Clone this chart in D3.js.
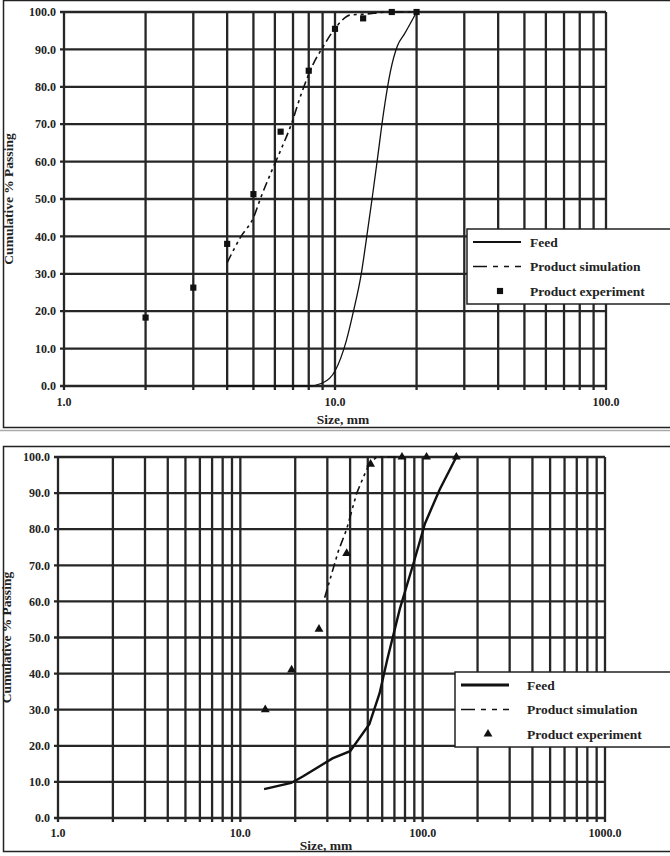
<!DOCTYPE html>
<html>
<head>
<meta charset="utf-8">
<script src="https://cdn.jsdelivr.net/npm/d3@7"></script>
<style>
  body { margin: 0; background: #fff; }
  text { font-family: "Liberation Serif", "Times New Roman", serif; font-weight: bold; fill: #222; }
</style>
</head>
<body>
<div id="vis"></div>
<script>
const width = 670;
const height = 856;

// size (mm), cumulative % passing
const feed1 = [[4,0],[8,0],[9,0.8],[10,4],[11,12],[11.7,20],[12.5,30],[13.1,40],[13.7,50],[14.3,60],[15.1,73],[16,84],[17,91],[18,94],[20,100]];
const sim1 = [[4.0,33],[4.5,40],[5.0,45],[5.3,50],[5.8,57],[6.3,63],[6.9,70],[7.5,78],[8.3,86],[9.0,90.5],[10.1,96],[11.4,99.2],[12.7,99.4],[16,100],[20,100]];
const exp1 = [[2.0,18.3],[3.0,26.3],[4.0,38],[5.0,51.3],[6.3,68],[8.0,84.3],[10.0,95.5],[12.7,98.3],[16.2,100],[20,100]];

const feed2 = [[13.5,8],[19,9.7],[22,11.5],[32,16.5],[40,18.5],[51,26],[58,34.5],[64,44],[75,58],[89,70.5],[103,81.6],[124,91],[153,100]];
const sim2 = [[29,61],[31,66],[34.5,74],[38.3,80],[40.8,85],[43.5,90],[48.3,95.5],[51.4,98.4],[56,100],[78,100]];
const exp2 = [[13.7,30],[19.1,41],[27,52.3],[38.3,73.3],[51.8,98],[77,100],[105,100],[153,100]];

const yTicks = [0,10,20,30,40,50,60,70,80,90,100];
const xLabels1 = [1,10,100];
const xLabels2 = [1,10,100,1000];
const legendNames = ['Feed', 'Product simulation', 'Product experiment'];

const svg = d3.select('#vis')
    .append('svg')
    .attr('width', width)
    .attr('height', height);

function panel(p) {
    const x = d3.scaleLog().domain(p.xDomain).range([p.left, p.right]);
    const y = d3.scaleLinear().domain([0, 100]).range([p.bottom, p.top]);
    const g = svg.append('g');

    // outer frame
    g.append('rect')
        .attr('x', 3.5).attr('y', p.frameTop)
        .attr('width', 700).attr('height', p.frameH)
        .attr('fill', 'none').attr('stroke', '#222').attr('stroke-width', 1.5);

    // vertical grid, one line per 1..9 of each decade
    g.selectAll('line.v')
        .data(x.ticks())
        .join('line')
        .attr('x1', d => x(d)).attr('x2', d => x(d))
        .attr('y1', p.top).attr('y2', p.bottom + 4)
        .attr('stroke', '#262626').attr('stroke-width', 2.3);

    // horizontal grid
    g.selectAll('line.h')
        .data(yTicks)
        .join('line')
        .attr('x1', p.left - 4).attr('x2', p.right)
        .attr('y1', d => y(d)).attr('y2', d => y(d))
        .attr('stroke', '#262626').attr('stroke-width', 2.3);

    // y labels
    g.selectAll('text.y')
        .data(yTicks)
        .join('text')
        .attr('x', p.left - 8).attr('y', d => y(d))
        .attr('dy', '0.35em').attr('text-anchor', 'end')
        .style('font-size', '12px')
        .text(d => d3.format('.1f')(d));

    // x labels
    g.selectAll('text.x')
        .data(p.xLabels)
        .join('text')
        .attr('x', d => x(d)).attr('y', p.bottom + p.xLabDy)
        .attr('text-anchor', 'middle')
        .style('font-size', '12px')
        .text(d => d3.format('.1f')(d));

    // axis titles
    g.append('text')
        .attr('x', p.xTitleX).attr('y', p.bottom + p.xTitleDy)
        .attr('text-anchor', 'middle')
        .style('font-size', '13.5px')
        .text('Size, mm');
    g.append('text')
        .attr('transform', `translate(${p.yTitleX},${(p.top + p.bottom) / 2}) rotate(-90)`)
        .attr('text-anchor', 'middle')
        .style('font-size', '13.5px')
        .text('Cumulative % Passing');

    const line = d3.line()
        .x(d => x(d[0]))
        .y(d => y(d[1]))
        .curve(p.curve);

    g.append('path')
        .datum(p.feed)
        .attr('d', line)
        .attr('fill', 'none').attr('stroke', '#111').attr('stroke-width', p.feedW);

    g.append('path')
        .datum(p.sim)
        .attr('d', line)
        .attr('fill', 'none').attr('stroke', '#111').attr('stroke-width', 1.6)
        .attr('stroke-dasharray', '9,4,3,4,3,4');

    const sym = d3.symbol().type(p.symbol).size(p.symSize);
    g.selectAll('path.pt')
        .data(p.exp)
        .join('path')
        .attr('transform', d => `translate(${x(d[0])},${y(d[1])})`)
        .attr('d', sym)
        .attr('fill', '#111');

    // legend
    const lg = g.append('g').attr('transform', `translate(${p.legX},${p.legY})`);
    lg.append('rect')
        .attr('width', 260).attr('height', 75)
        .attr('fill', '#fff').attr('stroke', '#222').attr('stroke-width', 1.5);
    lg.selectAll('text')
        .data(legendNames)
        .join('text')
        .attr('x', p.legText).attr('y', (d, i) => 13 + i * 24.5)
        .attr('dy', '0.35em')
        .style('font-size', '13.5px')
        .text(d => d);
    lg.append('line')
        .attr('x1', 6).attr('x2', 54).attr('y1', 13).attr('y2', 13)
        .attr('stroke', '#111').attr('stroke-width', p.feedW + 0.5);
    lg.append('line')
        .attr('x1', 6).attr('x2', 54).attr('y1', 37.5).attr('y2', 37.5)
        .attr('stroke', '#111').attr('stroke-width', 1.6)
        .attr('stroke-dasharray', '14,6,5,6,5,6');
    lg.append('path')
        .attr('transform', 'translate(33,62)')
        .attr('d', sym)
        .attr('fill', '#111');
}

panel({
    xDomain: [1, 100], xLabels: xLabels1,
    left: 64, right: 606, top: 12, bottom: 386,
    frameTop: 0.5, frameH: 427,
    xLabDy: 20, xTitleDy: 38,
    xTitleX: 343, yTitleX: 13,
    feed: feed1, sim: sim1, exp: exp1, feedW: 1.3,
    curve: d3.curveMonotoneX,
    symbol: d3.symbolSquare, symSize: 38,
    legX: 467, legY: 229, legText: 63
});

// thin gray separator between the two charts
svg.append('line')
    .attr('x1', 0).attr('x2', width).attr('y1', 430.5).attr('y2', 430.5)
    .attr('stroke', '#aaa').attr('stroke-width', 1.5);

panel({
    xDomain: [1, 1000], xLabels: xLabels2,
    left: 58, right: 605, top: 457, bottom: 818,
    frameTop: 446.5, frameH: 405,
    xLabDy: 19, xTitleDy: 32,
    xTitleX: 326, yTitleX: 11,
    feed: feed2, sim: sim2, exp: exp2, feedW: 2.4,
    curve: d3.curveLinear,
    symbol: d3.symbolTriangle, symSize: 34,
    legX: 455, legY: 672, legText: 72
});
</script>
</body>
</html>
